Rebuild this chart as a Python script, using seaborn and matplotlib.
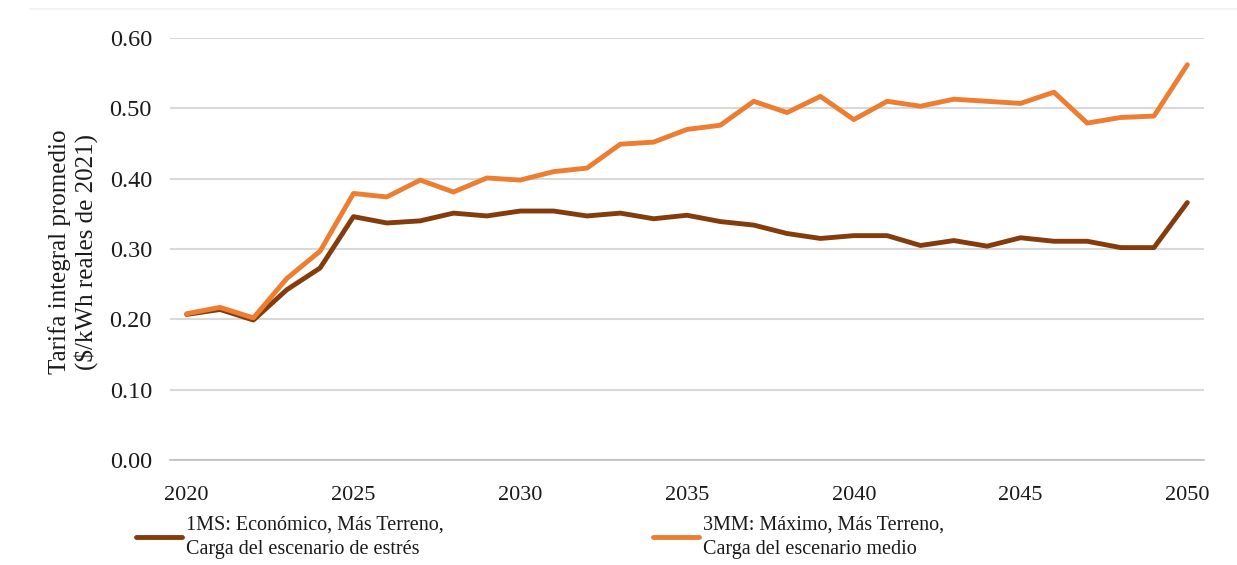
import matplotlib
matplotlib.use("Agg")
import matplotlib.pyplot as plt
import seaborn as sns
import pandas as pd
import numpy as np
from matplotlib.ticker import FixedLocator, FuncFormatter

years = list(range(2020, 2051))
series_names = ["1MS: Económico, Más Terreno,\nCarga del escenario de estrés",
                "3MM: Máximo, Más Terreno,\nCarga del escenario medio"]
vals_1ms = [0.207, 0.214, 0.199, 0.242, 0.273, 0.346, 0.337, 0.340, 0.351, 0.347,
            0.354, 0.354, 0.347, 0.351, 0.343, 0.348, 0.339, 0.334, 0.322, 0.315,
            0.319, 0.319, 0.305, 0.312, 0.304, 0.316, 0.311, 0.311, 0.302, 0.302,
            0.366]
vals_3mm = [0.208, 0.217, 0.202, 0.258, 0.297, 0.379, 0.374, 0.398, 0.381, 0.401,
            0.398, 0.410, 0.415, 0.449, 0.452, 0.470, 0.476, 0.510, 0.494, 0.517,
            0.484, 0.510, 0.503, 0.513, 0.510, 0.507, 0.523, 0.479, 0.487, 0.489,
            0.562]
y_ticks = [0.0, 0.1, 0.2, 0.3, 0.4, 0.5, 0.6]
x_label_years = [2020, 2025, 2030, 2035, 2040, 2045, 2050]
ylabel_text = "Tarifa integral promedio\n($/kWh reales de 2021)"

colors = ["#843C0C", "#ED7D31"]

df = pd.DataFrame({
    "year": years * 2,
    "value": vals_1ms + vals_3mm,
    "series": [series_names[0]] * len(years) + [series_names[1]] * len(years),
})

sns.set_theme(style="white")
plt.rcParams["font.family"] = ["Liberation Serif", "DejaVu Serif"]

fig = plt.figure(figsize=(12.37, 5.65), dpi=100)
ax = fig.add_axes([170 / 1237, 1 - 460 / 565, (1204 - 170) / 1237, (460 - 38) / 565])

sns.lineplot(data=df, x="year", y="value", hue="series", palette=colors,
             hue_order=series_names, linewidth=3.5, ax=ax, legend=False,
             solid_capstyle="round")

ax.set_xlim(2019.5, 2050.5)
ax.set_ylim(0, 0.6)
ax.yaxis.set_major_locator(FixedLocator(y_ticks))
ax.yaxis.set_major_formatter(FuncFormatter(lambda v, p: f"{v:.2f}"))
ax.grid(axis="y", color="#d9d9d9", linewidth=1.5)
ax.set_axisbelow(True)

# x axis: category-like ticks between years, labels every 5 years
ax.set_xticks(x_label_years)
ax.set_xticklabels([str(y) for y in x_label_years])
ax.set_xticks([y - 0.5 for y in years] + [2050.5], minor=True)
ax.tick_params(axis="x", which="major", length=0, pad=19, labelsize=16, labelcolor="#1a1a1a")
ax.tick_params(axis="x", which="minor", direction="in", length=4.5, width=1.0, color="#bfbfbf")
ax.tick_params(axis="y", length=0, pad=13, labelsize=17.5, labelcolor="#1a1a1a")

for s in ["top", "right", "left"]:
    ax.spines[s].set_visible(False)
ax.spines["bottom"].set_color("#bfbfbf")
ax.spines["bottom"].set_linewidth(1.2)
ax.set_xlabel("")
ax.set_ylabel("")

fig.text(73 / 1237, 1 - 252 / 565, ylabel_text, rotation=90, ha="center", va="center",
         multialignment="center", fontsize=18, color="#1a1a1a", linespacing=1.15)

# faint top border line
fig.add_artist(plt.Line2D([30 / 1237, 1.0], [1 - 9 / 565, 1 - 9 / 565],
                          color="#f2f2f2", linewidth=1.5, transform=fig.transFigure))

handles = [plt.Line2D([], [], color=c, linewidth=3.5, solid_capstyle="round") for c in colors]
leg = fig.legend(handles, series_names, loc="center left",
                 bbox_to_anchor=(136 / 1237, 1 - 537 / 565), ncol=2, frameon=False,
                 fontsize=14.5, handlelength=2.3, handletextpad=0.2, columnspacing=10.35,
                 borderpad=0, borderaxespad=0)
for t in leg.get_texts():
    t.set_color("#1a1a1a")
    t.set_linespacing(1.38)

fig.savefig("out.png", dpi=100)
